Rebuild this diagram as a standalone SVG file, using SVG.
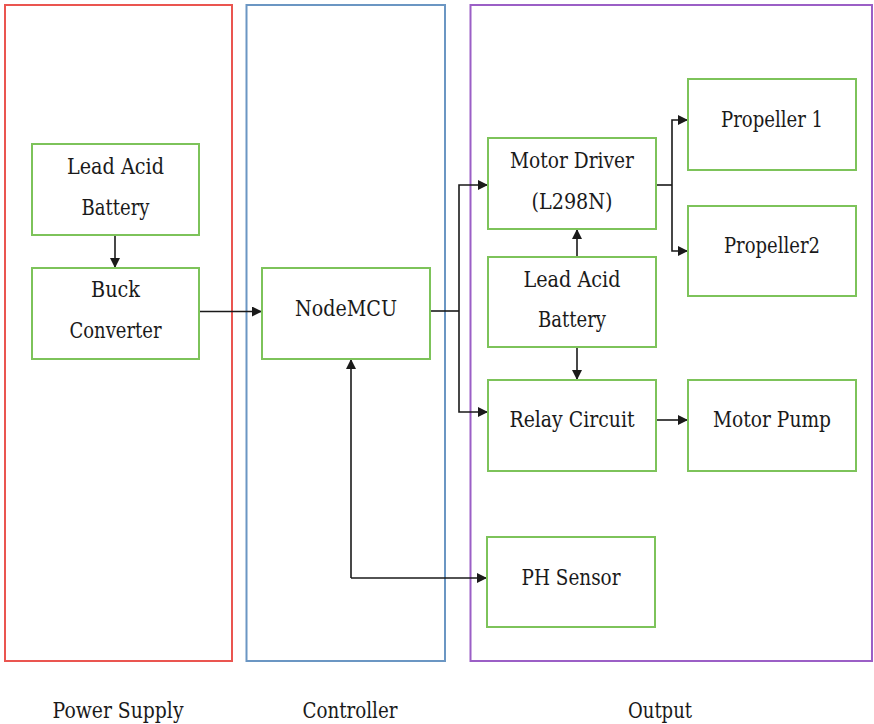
<svg xmlns="http://www.w3.org/2000/svg" width="874" height="724" viewBox="0 0 874 724">
<defs>
<style>
.box{fill:#fff;stroke:#7dc35a;stroke-width:2}
.t{font-family:'DejaVu Serif','Liberation Serif',serif;font-size:22px;fill:#1a1a1a;text-anchor:middle}
.c{fill:none;stroke:#1a1a1a;stroke-width:1.6}
</style>
<marker id="ah" viewBox="0 0 10 10" refX="10" refY="5" markerWidth="10" markerHeight="10" markerUnits="userSpaceOnUse" orient="auto">
<path d="M0,0 L10,5 L0,10 z" fill="#1a1a1a"/>
</marker>
</defs>
<rect width="874" height="724" fill="#fff"/>
<g id="containers">
<rect x="5" y="5" width="227" height="656" fill="none" stroke="#ea5550" stroke-width="2"/>
<rect x="246.5" y="5" width="198.5" height="656" fill="none" stroke="#6b96c3" stroke-width="2"/>
<rect x="470.5" y="5" width="401.5" height="656" fill="none" stroke="#9b5fc6" stroke-width="2"/>
</g>
<g id="connectors">
<path class="c" d="M115,235 V268" marker-end="url(#ah)"/>
<path class="c" d="M199,311.5 H262" marker-end="url(#ah)"/>
<path class="c" d="M430,311 H459"/>
<path class="c" d="M459,311 V185 H488" marker-end="url(#ah)"/>
<path class="c" d="M459,311 V412 H488" marker-end="url(#ah)"/>
<path class="c" d="M577,257 V229" marker-end="url(#ah)"/>
<path class="c" d="M577,347 V380" marker-end="url(#ah)"/>
<path class="c" d="M656,185 H672"/>
<path class="c" d="M672,185 V120 H688" marker-end="url(#ah)"/>
<path class="c" d="M672,185 V251 H688" marker-end="url(#ah)"/>
<path class="c" d="M656,420 H688" marker-end="url(#ah)"/>
<path class="c" d="M351,578 H487" marker-end="url(#ah)"/>
<path class="c" d="M351,578 V359" marker-end="url(#ah)"/>
</g>
<g id="n-battery1">
<rect class="box" x="32" y="144" width="167" height="91"/>
<text class="t" x="115.5" y="174" textLength="97" lengthAdjust="spacingAndGlyphs">Lead Acid</text>
<text class="t" x="115.5" y="215" textLength="68" lengthAdjust="spacingAndGlyphs">Battery</text>
</g>
<g id="n-buck">
<rect class="box" x="32" y="268" width="167" height="91"/>
<text class="t" x="115.5" y="297" textLength="49" lengthAdjust="spacingAndGlyphs">Buck</text>
<text class="t" x="115.5" y="338" textLength="92" lengthAdjust="spacingAndGlyphs">Converter</text>
</g>
<g id="n-nodemcu">
<rect class="box" x="262" y="268" width="168" height="91"/>
<text class="t" x="346" y="316" textLength="102" lengthAdjust="spacingAndGlyphs">NodeMCU</text>
</g>
<g id="n-motordriver">
<rect class="box" x="488" y="138" width="168" height="91"/>
<text class="t" x="572" y="168" textLength="124" lengthAdjust="spacingAndGlyphs">Motor Driver</text>
<text class="t" x="572" y="209" textLength="81" lengthAdjust="spacingAndGlyphs">(L298N)</text>
</g>
<g id="n-battery2">
<rect class="box" x="488" y="257" width="168" height="90"/>
<text class="t" x="572" y="287" textLength="97" lengthAdjust="spacingAndGlyphs">Lead Acid</text>
<text class="t" x="572" y="327" textLength="68" lengthAdjust="spacingAndGlyphs">Battery</text>
</g>
<g id="n-propeller1">
<rect class="box" x="688" y="79" width="168" height="91"/>
<text class="t" x="772" y="127" textLength="102" lengthAdjust="spacingAndGlyphs">Propeller 1</text>
</g>
<g id="n-propeller2">
<rect class="box" x="688" y="206" width="168" height="90"/>
<text class="t" x="772" y="253" textLength="96" lengthAdjust="spacingAndGlyphs">Propeller2</text>
</g>
<g id="n-relay">
<rect class="box" x="488" y="380" width="168" height="91"/>
<text class="t" x="572" y="427" textLength="125" lengthAdjust="spacingAndGlyphs">Relay Circuit</text>
</g>
<g id="n-pump">
<rect class="box" x="688" y="380" width="168" height="91"/>
<text class="t" x="772" y="427" textLength="118" lengthAdjust="spacingAndGlyphs">Motor Pump</text>
</g>
<g id="n-ph">
<rect class="box" x="487" y="537" width="168" height="90"/>
<text class="t" x="571" y="585" textLength="99" lengthAdjust="spacingAndGlyphs">PH Sensor</text>
</g>
<g id="labels">
<text class="t" x="118" y="718" textLength="131" lengthAdjust="spacingAndGlyphs">Power Supply</text>
<text class="t" x="350" y="718" textLength="95" lengthAdjust="spacingAndGlyphs">Controller</text>
<text class="t" x="660" y="718" textLength="64" lengthAdjust="spacingAndGlyphs">Output</text>
</g>
</svg>
